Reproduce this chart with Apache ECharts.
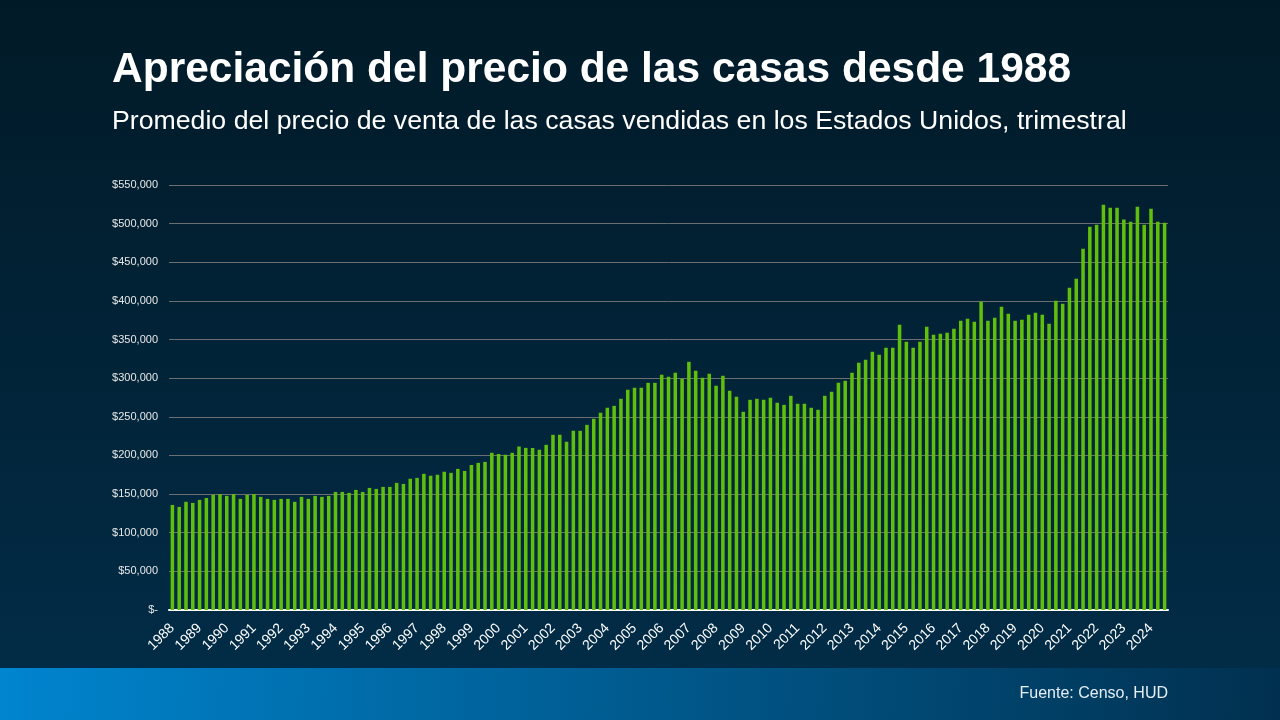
<!DOCTYPE html>
<html>
<head>
<meta charset="utf-8">
<script src="https://cdn.jsdelivr.net/npm/echarts@6/dist/echarts.min.js"></script>
<style>
html,body{margin:0;padding:0;width:1280px;height:720px;overflow:hidden;background:#011b29;}
#chart{width:1280px;height:720px;}
</style>
</head>
<body>
<div id="chart"></div>
<script>
// Tick labels (years) and quarterly average sales price (US$), 1988 Q1 – 2024 Q3
const years = [1988,1989,1990,1991,1992,1993,1994,1995,1996,1997,1998,1999,2000,2001,2002,2003,2004,2005,2006,2007,2008,2009,2010,2011,2012,2013,2014,2015,2016,2017,2018,2019,2020,2021,2022,2023,2024];
const quarters = ['T1','T2','T3','T4'];
const prices = [
  136000,133400,140000,138600, 142500,145000,149000,150000, 147700,150000,143800,149000,
  150000,146400,143800,142500, 143800,143800,140000,146400, 143800,147700,146400,147700,
  152800,152800,151600,155400, 152800,158000,156700,159300, 159300,164500,163200,169700,
  171000,176200,173600,174900, 178800,177500,182600,180000, 187800,190400,191700,203400,
  202000,200800,203400,211600, 209800,209800,207300,213700, 226700,226700,217600,231900,
  231900,239600,247400,255200, 261700,264200,273300,285000, 287600,287600,294000,294000,
  304400,301800,307000,299200, 321200,309600,300500,305700, 290200,303100,283700,275900,
  256500,272000,273300,272000, 274600,268100,265500,277200, 266800,266800,261700,259100,
  277200,282400,294000,296600, 307000,320000,323800,334200, 330300,339400,339400,369200,
  347200,339400,347200,366600, 356200,357500,358800,364000, 374400,376900,373000,399000,
  374400,378200,392500,383400, 374400,375600,382100,384700, 382100,370500,400300,396400,
  417100,428800,467600,496100, 498700,524600,520700,520700, 505200,502600,522000,498700,
  519400,502600,501300
];
const yTicks = {min:0, max:550000, interval:50000};

const categories = [];
years.forEach(y => quarters.forEach(q => categories.push(y + ' ' + q)));
const cats = categories.slice(0, prices.length);

const chart = echarts.init(document.getElementById('chart'), null, {renderer:'canvas'});
chart.setOption({
  animation:false,
  backgroundColor:{type:'linear',x:0,y:0,x2:0,y2:1,colorStops:[
    {offset:0,color:'#011a27'},{offset:1,color:'#022d49'}]},
  title:[
    {text:'Apreciación del precio de las casas desde 1988',left:112,top:49,padding:0,
     textStyle:{color:'#ffffff',fontFamily:'Liberation Sans, Arial, sans-serif',fontWeight:'bold',fontSize:42.5}},
    {text:'Promedio del precio de venta de las casas vendidas en los Estados Unidos, trimestral',left:112,top:108,padding:0,
     textStyle:{color:'#ffffff',fontFamily:'Liberation Sans, Arial, sans-serif',fontWeight:'normal',fontSize:26.7}}
  ],
  graphic:[
    {type:'rect',left:0,top:668,shape:{width:1280,height:52},z:-1,
     style:{fill:{type:'linear',x:0,y:0,x2:1,y2:1,colorStops:[
       {offset:0,color:'#0085cf'},{offset:0.5,color:'#005a8e'},{offset:1,color:'#01304f'}]}}},
    {type:'text',right:112,top:686,
     style:{text:'Fuente: Censo, HUD',fill:'#e6eef4',font:'16px "Liberation Sans", Arial, sans-serif'}}
  ],
  grid:{left:169,right:112,top:185,bottom:110,containLabel:false},
  xAxis:{
    type:'category',data:cats,boundaryGap:true,
    axisLine:{show:true,lineStyle:{color:'#ffffff',width:2}},
    axisTick:{show:false},
    axisLabel:{interval:3,rotate:45,margin:16,color:'#ffffff',
      fontFamily:'Liberation Sans, Arial, sans-serif',fontSize:14,
      formatter:v => v.split(' ')[0]}
  },
  yAxis:{
    type:'value',min:yTicks.min,max:yTicks.max,interval:yTicks.interval,
    axisLine:{show:false},axisTick:{show:false},
    splitLine:{lineStyle:{color:'#6b6f72',width:1}},
    axisLabel:{color:'#e8e8e8',fontFamily:'Liberation Sans, Arial, sans-serif',fontSize:11,margin:11,
      formatter:v => v === 0 ? '$-' : '$' + v.toLocaleString('en-US')}
  },
  series:[{
    type:'bar',data:prices,barWidth:'52%',
    itemStyle:{color:'#5fbf0c'}
  }]
});
</script>
</body>
</html>
